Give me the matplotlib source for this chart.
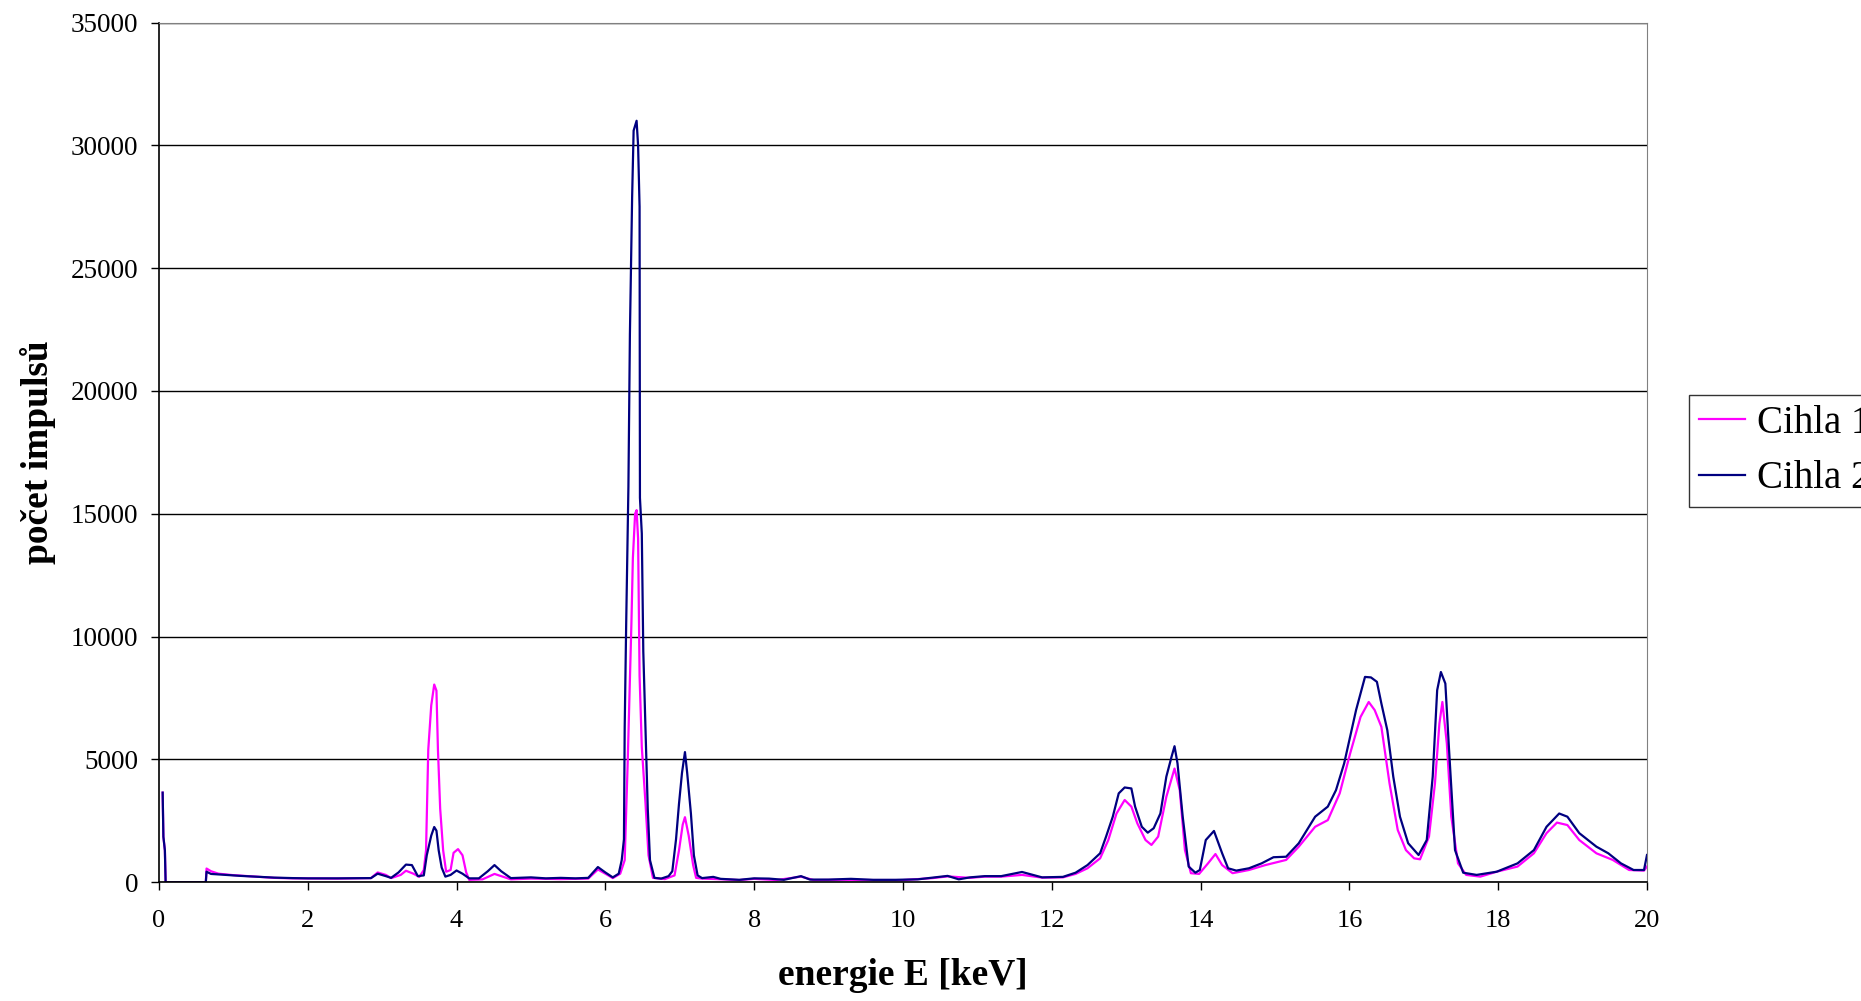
#! /usr/bin/env python3
# ----------------------------------------------------------------------------------------
# XRF spectrum of two brick samples (Cihla 1, Cihla 2).
# ----------------------------------------------------------------------------------------

import matplotlib
matplotlib.use("Agg")
import matplotlib.pyplot as plt

plt.rcParams['font.family'] = ['Liberation Serif', 'DejaVu Serif']

# Cihla 1 (magenta): energy [keV], counts.
energy_1 = [0.05, 0.06, 0.08, 0.09, 0.63, 0.64, 0.70, 0.80, 1.00, 1.30, 1.55, 1.80, 2.40,
            2.85, 2.94, 3.05, 3.12, 3.25, 3.32, 3.42, 3.50, 3.56, 3.59, 3.62, 3.66, 3.70,
            3.73, 3.75, 3.78, 3.82, 3.86, 3.92, 3.96, 4.02, 4.08, 4.13, 4.17, 4.35, 4.51,
            4.60, 4.73, 5.00, 5.40, 5.77, 5.90, 6.00, 6.10, 6.20, 6.26, 6.30, 6.35, 6.37,
            6.40, 6.42, 6.44, 6.46, 6.49, 6.54, 6.58, 6.64, 6.80, 6.93, 6.99, 7.04, 7.07,
            7.12, 7.18, 7.22, 7.30, 7.50, 7.80, 8.00, 8.30, 8.63, 8.80, 9.20, 9.60, 10.00,
            10.40, 10.60, 10.90, 11.10, 11.32, 11.60, 11.87, 12.15, 12.32, 12.48, 12.65,
            12.76, 12.87, 12.98, 13.07, 13.15, 13.26, 13.34, 13.43, 13.54, 13.65, 13.72,
            13.79, 13.87, 13.98, 14.10, 14.20, 14.29, 14.43, 14.65, 14.87, 15.15, 15.32,
            15.54, 15.71, 15.87, 16.01, 16.15, 16.26, 16.34, 16.43, 16.54, 16.65, 16.76,
            16.87, 16.95, 17.07, 17.15, 17.21, 17.25, 17.31, 17.37, 17.46, 17.57, 17.76,
            17.98, 18.26, 18.48, 18.65, 18.79, 18.93, 19.09, 19.32, 19.54, 19.76, 19.96,
            20.00]
counts_1 = [3650, 1850, 1300, 0, 0, 560, 450, 350, 290, 230, 180, 160, 150,
            170, 400, 300, 170, 300, 470, 350, 220, 500, 1300, 5400, 7200, 8050,
            7800, 5400, 3000, 1300, 430, 500, 1200, 1350, 1100, 400, 100, 120, 340,
            250, 120, 150, 130, 150, 520, 350, 170, 350, 900, 4850, 10500, 13200,
            15000, 15150, 14000, 8400, 5500, 3200, 1100, 180, 130, 280, 1300, 2350, 2650,
            1900, 700, 180, 150, 130, 90, 140, 90, 230, 90, 100, 90, 90,
            170, 240, 180, 230, 230, 300, 190, 200, 340, 570, 975,
            1720, 2800, 3350, 3080, 2400, 1720, 1520, 1860, 3480, 4630, 3750,
            1310, 370, 340, 770, 1150, 700, 370, 500, 700, 910, 1450,
            2260, 2530, 3620, 5240, 6730, 7340, 7010, 6330, 4020, 2130, 1310,
            975, 935, 1860, 4020, 6460, 7340, 5650, 2670, 770, 300, 230,
            430, 640, 1180, 2000, 2430, 2330, 1720, 1180, 910, 500, 475,
            640]

# Cihla 2 (navy): energy [keV], counts.
energy_2 = [0.05, 0.06, 0.08, 0.09, 0.63, 0.64, 0.70, 0.90, 1.10, 1.30, 1.55, 1.80, 2.00,
            2.40, 2.85, 2.94, 3.05, 3.12, 3.22, 3.32, 3.40, 3.48, 3.56, 3.60, 3.66, 3.70,
            3.73, 3.76, 3.80, 3.85, 3.92, 4.00, 4.08, 4.17, 4.30, 4.42, 4.51, 4.60, 4.73,
            5.00, 5.20, 5.40, 5.60, 5.77, 5.90, 6.00, 6.10, 6.18, 6.22, 6.25, 6.26, 6.28,
            6.31, 6.33, 6.36, 6.38, 6.42, 6.44, 6.46, 6.465, 6.49, 6.51, 6.55, 6.57, 6.60,
            6.66, 6.75, 6.85, 6.90, 6.95, 6.99, 7.03, 7.07, 7.10, 7.15, 7.19, 7.24, 7.30,
            7.45, 7.55, 7.80, 8.00, 8.20, 8.40, 8.63, 8.75, 9.00, 9.30, 9.60, 9.90, 10.20,
            10.40, 10.60, 10.75, 10.90, 11.10, 11.32, 11.60, 11.87, 12.15, 12.32, 12.48,
            12.65, 12.73, 12.82, 12.90, 12.98, 13.07, 13.12, 13.21, 13.29, 13.37, 13.46,
            13.54, 13.61, 13.65, 13.69, 13.76, 13.84, 13.93, 13.99, 14.07, 14.18, 14.29,
            14.37, 14.48, 14.65, 14.82, 14.98, 15.15, 15.32, 15.54, 15.71, 15.82, 15.93,
            16.01, 16.09, 16.21, 16.29, 16.37, 16.43, 16.51, 16.59, 16.68, 16.79, 16.93,
            17.04, 17.12, 17.18, 17.23, 17.29, 17.34, 17.42, 17.53, 17.71, 17.98, 18.26,
            18.48, 18.65, 18.82, 18.93, 19.09, 19.32, 19.48, 19.65, 19.82, 19.96, 20.00]
counts_2 = [3650, 1850, 1300, 0, 0, 430, 340, 300, 260, 230, 190, 170, 160,
            160, 170, 350, 250, 180, 400, 720, 700, 250, 280, 1100, 1900, 2250,
            2100, 1300, 600, 230, 300, 480, 350, 160, 160, 450, 700, 450, 170,
            200, 160, 180, 160, 180, 620, 400, 200, 350, 900, 1750, 6300, 10500,
            16100, 22300, 27900, 30600, 31000, 30000, 27500, 15650, 14200, 9400, 5050, 3000, 900,
            180, 150, 250, 450, 1750, 3200, 4450, 5300, 4450, 2800, 1100, 280, 170,
            220, 140, 100, 160, 150, 100, 250, 110, 110, 140, 100, 100, 120,
            190, 260, 120, 200, 250, 250, 420, 200, 220, 390, 700,
            1180, 1860, 2670, 3620, 3860, 3820, 3080, 2260, 2020, 2200, 2800,
            4300, 5110, 5540, 4840, 2670, 640, 390, 500, 1720, 2090, 1180,
            570, 475, 570, 770, 1020, 1040, 1590, 2670, 3080, 3750, 4840,
            5920, 7010, 8360, 8340, 8160, 7280, 6190, 4300, 2670, 1590, 1110,
            1720, 4300, 7820, 8560, 8090, 5380, 1310, 390, 300, 430, 770,
            1310, 2260, 2800, 2670, 2000, 1450, 1180, 770, 500, 500, 1110]

x_ticks = [0, 2, 4, 6, 8, 10, 12, 14, 16, 18, 20]
y_ticks = [0, 5000, 10000, 15000, 20000, 25000, 30000, 35000]

fig = plt.figure(figsize=(18.61, 10.01), dpi=100)
ax = fig.add_axes([0.0854, 0.1186, 0.7996, 0.8589])

ax.plot(energy_1, counts_1, color='#FF00FF', lw=1.6, label='Cihla 1')
ax.plot(energy_2, counts_2, color='#000080', lw=1.6, label='Cihla 2')

ax.set_xlim(0, 20)
ax.set_ylim(0, 35000)
ax.set_xticks(x_ticks)
ax.set_yticks(y_ticks)
ax.yaxis.grid(True, color='black', lw=1.0)
ax.set_axisbelow(True)

ax.spines['top'].set_color('#808080')
ax.spines['right'].set_color('#808080')
for side in ('left', 'bottom'):
    ax.spines[side].set_color('black')
    ax.spines[side].set_linewidth(1.2)

ax.tick_params(axis='x', direction='out', length=6, width=1, pad=14, labelsize=19)
ax.tick_params(axis='y', direction='out', length=6, width=1, pad=9, labelsize=19.5)

ax.set_xlabel("energie E [keV]", fontweight='bold', fontsize=27)
ax.set_ylabel("počet impulsů", fontweight='bold', fontsize=27)
ax.xaxis.set_label_coords(0.5, -0.088)
ax.yaxis.set_label_coords(-0.069, 0.5)

leg = ax.legend(loc='upper left', bbox_to_anchor=(0.9076, 0.6054),
                bbox_transform=fig.transFigure, fontsize=28, frameon=True,
                fancybox=False, edgecolor='black', handlelength=1.2,
                borderpad=0.25, labelspacing=0.48, handletextpad=0.3,
                borderaxespad=0)
leg.get_frame().set_linewidth(1.0)

fig.savefig("out.png", dpi=100)
